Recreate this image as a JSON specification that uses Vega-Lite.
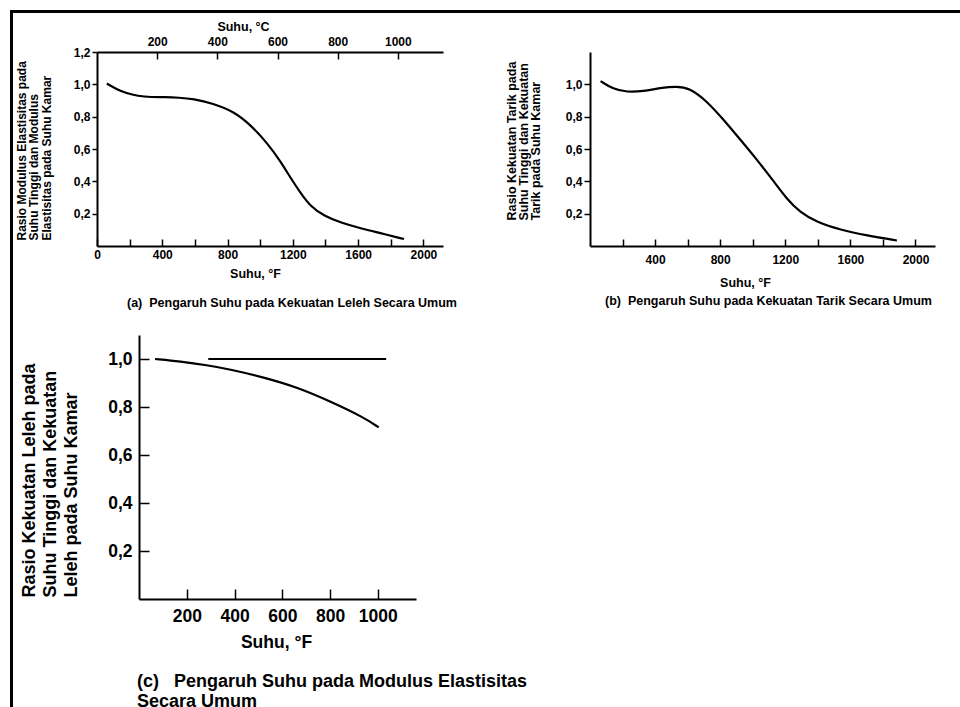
{
  "$schema": "https://vega.github.io/schema/vega-lite/v6.json",
  "padding": {"left": 10, "top": 10, "right": 0, "bottom": 0},
  "background": "white",
  "bounds": "flush",
  "spacing": 0,
  "config": {
    "view": {"stroke": null},
    "font": "Liberation Sans",
    "axis": {"domainColor": "black", "domainWidth": 2, "tickColor": "black", "tickWidth": 1.5, "labelColor": "black", "titleColor": "black", "labelFont": "Liberation Sans", "titleFont": "Liberation Sans", "labelFontWeight": "bold", "titleFontWeight": "bold", "grid": false, "labelOverlap": false, "labelFlush": false, "labelBound": false},
    "title": {"color": "black", "fontWeight": "bold", "font": "Liberation Sans"},
    "line": {"color": "black", "strokeWidth": 2.2}
  },
  "datasets": {
    "a": [{"F":60,"v":1.005},{"F":120,"v":0.97},{"F":180,"v":0.945},{"F":250,"v":0.928},{"F":330,"v":0.92},{"F":420,"v":0.921},{"F":500,"v":0.918},{"F":590,"v":0.91},{"F":710,"v":0.882},{"F":840,"v":0.831},{"F":942,"v":0.748},{"F":1045,"v":0.635},{"F":1126,"v":0.521},{"F":1187,"v":0.419},{"F":1249,"v":0.326},{"F":1310,"v":0.243},{"F":1391,"v":0.186},{"F":1494,"v":0.144},{"F":1616,"v":0.109},{"F":1739,"v":0.079},{"F":1881,"v":0.043}],
    "b": [{"F":65,"v":1.02},{"F":143,"v":0.97},{"F":226,"v":0.952},{"F":328,"v":0.957},{"F":431,"v":0.978},{"F":534,"v":0.988},{"F":610,"v":0.978},{"F":714,"v":0.9},{"F":816,"v":0.787},{"F":919,"v":0.663},{"F":1022,"v":0.539},{"F":1125,"v":0.405},{"F":1208,"v":0.292},{"F":1290,"v":0.209},{"F":1393,"v":0.147},{"F":1538,"v":0.1},{"F":1701,"v":0.065},{"F":1886,"v":0.034}],
    "c": [{"s":"turun","F":67,"v":1.0},{"s":"turun","F":172,"v":0.99},{"s":"turun","F":286,"v":0.974},{"s":"turun","F":382,"v":0.957},{"s":"turun","F":521,"v":0.924},{"s":"turun","F":664,"v":0.882},{"s":"turun","F":802,"v":0.823},{"s":"turun","F":941,"v":0.757},{"s":"turun","F":1004,"v":0.715},{"s":"datar","F":290,"v":1.0},{"s":"datar","F":1035,"v":1.0}]
  },
  "hconcat": [
    {"width": 3, "height": 697, "view": {"fill": "black", "stroke": null}, "mark": {"type": "point", "opacity": 0}, "encoding": {}},
    {
      "bounds": "flush",
      "spacing": 39,
      "vconcat": [
        {"width": 947, "height": 3, "view": {"fill": "black", "stroke": null}, "mark": {"type": "point", "opacity": 0}, "encoding": {}},
        {
          "bounds": "flush",
          "spacing": 40,
          "hconcat": [
            {"width": 44, "height": 1, "mark": {"type": "point", "opacity": 0}, "encoding": {}},
            {
              "bounds": "flush",
              "spacing": 283,
              "vconcat": [
                {
                  "bounds": "flush",
                  "spacing": 147,
                  "hconcat": [
                    {
                      "width": 346, "height": 194,
                      "data": {"name": "a"},
                      "title": {"text": "(a)\u00a0\u00a0Pengaruh Suhu pada Kekuatan Leleh Secara Umum", "orient": "bottom", "anchor": "start", "frame": "group", "dx": 30, "offset": 17, "fontSize": 12.5},
                      "layer": [
                        {
                          "mark": {"type": "line", "interpolate": "basis"},
                          "encoding": {
                            "x": {"field": "F", "type": "quantitative", "scale": {"domain": [0, 2120], "nice": false, "zero": false},
                              "axis": {"orient": "bottom", "values": [0,200,400,600,800,1000,1200,1400,1600,1800,2000], "format": "d", "labelExpr": "datum.value % 400 == 0 ? datum.label : ''", "tickSize": -7, "labelPadding": 10.5, "labelFontSize": 12, "title": "Suhu, °F", "titleFontSize": 12.5, "titleX": 158, "titleY": 27, "titleBaseline": "middle", "titleAlign": "center"}},
                            "y": {"field": "v", "type": "quantitative", "scale": {"domain": [0, 1.2], "nice": false},
                              "axis": {"values": [0.2,0.4,0.6,0.8,1.0,1.2], "labelExpr": "replace(format(datum.value,'.1f'),'.',',')", "tickSize": 5, "labelPadding": 2, "labelFontSize": 12, "title": ["Rasio Modulus Elastisitas pada", "Suhu Tinggi dan Modulus", "Elastisitas pada Suhu Kamar"], "titleFontSize": 12, "titleLineHeight": 12.5, "titleAngle": -90, "titleAlign": "left", "titleBaseline": "top", "titleX": -81, "titleY": 188}}
                          }
                        },
                        {
                          "mark": {"type": "point", "opacity": 0},
                          "encoding": {
                            "x": {"datum": 200, "type": "quantitative", "scale": {"domain": [0, 1150], "nice": false, "zero": false},
                              "axis": {"orient": "top", "values": [200,400,600,800,1000], "format": "d", "tickSize": -7, "labelPadding": 11, "labelFontSize": 12, "title": "Suhu, °C", "titleFontSize": 12.5, "titleX": 146, "titleY": -26, "titleBaseline": "middle", "titleAlign": "center"}}
                          }
                        }
                      ],
                      "resolve": {"scale": {"x": "independent"}, "axis": {"x": "independent"}}
                    },
                    {
                      "width": 345, "height": 194,
                      "data": {"name": "b"},
                      "title": {"text": "(b)\u00a0\u00a0Pengaruh Suhu pada Kekuatan Tarik Secara Umum", "orient": "bottom", "anchor": "start", "frame": "group", "dx": 15, "offset": 6, "fontSize": 12.5},
                      "mark": {"type": "line", "interpolate": "basis"},
                      "encoding": {
                        "x": {"field": "F", "type": "quantitative", "scale": {"domain": [0, 2120], "nice": false, "zero": false},
                          "axis": {"values": [200,400,600,800,1000,1200,1400,1600,1800,2000], "format": "d", "labelExpr": "datum.value % 400 == 0 ? datum.label : ''", "tickSize": -7, "labelPadding": 15, "labelFontSize": 12, "title": "Suhu, °F", "titleFontSize": 12.5, "titleX": 155, "titleY": 36, "titleBaseline": "middle", "titleAlign": "center"}},
                        "y": {"field": "v", "type": "quantitative", "scale": {"domain": [0, 1.2], "nice": false},
                          "axis": {"values": [0.2,0.4,0.6,0.8,1.0], "labelExpr": "replace(format(datum.value,'.1f'),'.',',')", "tickSize": 6, "labelPadding": 2, "labelFontSize": 12, "title": ["Rasio Kekuatan Tarik pada", "Suhu Tinggi dan Kekuatan", "Tarik pada Suhu Kamar"], "titleFontSize": 12.5, "titleLineHeight": 12, "titleAngle": -90, "titleAlign": "left", "titleBaseline": "top", "titleX": -85, "titleY": 168}}
                      }
                    }
                  ]
                },
                {
                  "bounds": "flush",
                  "spacing": 40,
                  "hconcat": [
                    {"width": 2, "height": 1, "mark": {"type": "point", "opacity": 0}, "encoding": {}},
                    {
                      "width": 277, "height": 264,
                      "data": {"name": "c"},
                      "title": {"text": ["(c)\u00a0\u00a0\u00a0Pengaruh Suhu pada Modulus Elastisitas", "\u00a0\u00a0\u00a0\u00a0\u00a0\u00a0\u00a0Secara Umum"], "orient": "bottom", "anchor": "start", "frame": "group", "dx": -2, "offset": 22, "fontSize": 18, "lineHeight": 20},
                      "mark": {"type": "line", "interpolate": "basis"},
                      "encoding": {
                        "detail": {"field": "s"},
                        "x": {"field": "F", "type": "quantitative", "scale": {"domain": [0, 1160], "nice": false, "zero": false},
                          "axis": {"values": [200,400,600,800,1000], "format": "d", "tickSize": -10, "labelPadding": 18, "labelFontSize": 17.5, "title": "Suhu, °F", "titleFontSize": 17.5, "titleX": 137, "titleY": 43, "titleBaseline": "middle", "titleAlign": "center"}},
                        "y": {"field": "v", "type": "quantitative", "scale": {"domain": [0, 1.1], "nice": false},
                          "axis": {"values": [0.2,0.4,0.6,0.8,1.0], "labelExpr": "replace(format(datum.value,'.1f'),'.',',')", "tickSize": -10, "labelPadding": 17, "labelFontSize": 17.5, "title": ["Rasio Kekuatan Leleh pada", "Suhu Tinggi dan Kekuatan", "Leleh pada Suhu Kamar"], "titleFontSize": 18, "titleLineHeight": 21, "titleAngle": -90, "titleAlign": "left", "titleBaseline": "top", "titleX": -119, "titleY": 262}}
                      }
                    }
                  ]
                }
              ]
            }
          ]
        }
      ]
    }
  ]
}
